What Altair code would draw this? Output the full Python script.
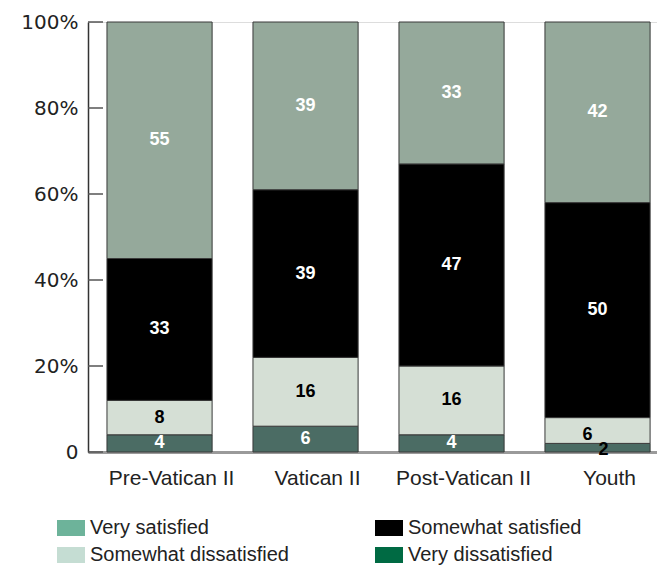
import altair as alt
import pandas as pd

# ---- data ----
groups = ["Pre-Vatican II", "Vatican II", "Post-Vatican II", "Youth"]
categories = ["Very satisfied", "Somewhat satisfied", "Somewhat dissatisfied", "Very dissatisfied"]
# legend texts as printed (the last one carries a leading gap in the reference)
legend_texts = ["Very satisfied", "Somewhat satisfied", "Somewhat dissatisfied",
                "\u00a0\u00a0\u00a0Very dissatisfied"]
very_satisfied = [55, 39, 33, 42]
somewhat_satisfied = [33, 39, 47, 50]
somewhat_dissatisfied = [8, 16, 16, 6]
very_dissatisfied = [4, 6, 4, 2]
y_ticks = [0, 20, 40, 60, 80, 100]

bar_colors = ["#95a99b", "#000000", "#d5dfd5", "#4b6c64"]
legend_colors = ["#6db39a", "#000000", "#c5ddd3", "#006a43"]

series = {
    "Very satisfied": very_satisfied,
    "Somewhat satisfied": somewhat_satisfied,
    "Somewhat dissatisfied": somewhat_dissatisfied,
    "Very dissatisfied": very_dissatisfied,
}

rows = []
for gi, g in enumerate(groups):
    base = 0
    tiny_bottom = very_dissatisfied[gi] < 3
    for cat in reversed(categories):  # stack from the bottom
        v = series[cat][gi]
        dark_text = cat == "Somewhat dissatisfied" or (cat == "Very dissatisfied" and v < 3)
        nudge = "none"
        if tiny_bottom and cat == "Very dissatisfied":
            nudge = "right"
        elif tiny_bottom and cat == "Somewhat dissatisfied":
            nudge = "left"
        rows.append(dict(group=g, cat=cat, legend_cat=legend_texts[categories.index(cat)],
                         value=v, y0=base, y1=base + v,
                         mid=base + v / 2, tcolor="black" if dark_text else "white",
                         nudge=nudge))
        base += v
df = pd.DataFrame(rows)
ticks_df = pd.DataFrame({"v": y_ticks})

# legend lays out column by column: order entries so rows read as in the reference
legend_idx = [0, 2, 1, 3]
legend_order = [legend_texts[i] for i in legend_idx]
legend_range = [legend_colors[i] for i in legend_idx]

FONT = "Liberation Sans"

x_enc = alt.X("group:N", sort=groups, title=None,
              scale=alt.Scale(paddingInner=0.28, paddingOuter=0.0887, align=0.733),
              axis=alt.Axis(labelAngle=0, labelFont=FONT, labelFontSize=21, labelColor="#222",
                            labelOffset=12, labelPadding=15, ticks=False, domainColor="#9a9a9a",
                            domainWidth=3, grid=False))
y_scale = alt.Scale(domain=[0, 100], nice=False)
y_axis = alt.Axis(values=y_ticks, labelExpr="datum.value == 0 ? '0' : datum.value + '%'",
                  labelFont="DejaVu Sans", labelFontSize=20, labelColor="#222",
                  labelPadding=10, ticks=False, domainColor="#333", domainWidth=1.5, grid=False)

legend_bars = alt.Chart(df).mark_bar().encode(
    x=x_enc,
    y=alt.Y("y0:Q", scale=y_scale, axis=y_axis, title=None),
    y2="y1:Q",
    color=alt.Color("legend_cat:N", scale=alt.Scale(domain=legend_order, range=legend_range),
                    legend=alt.Legend(title=None, orient="none", legendX=-31, legendY=492,
                                      columns=2, symbolType="M-1,-0.57L1,-0.57L1,0.57L-1,0.57Z",
                                      symbolSize=784, symbolStrokeWidth=0, symbolOpacity=1,
                                      labelFont=FONT, labelFontSize=20, labelColor="#222",
                                      labelOffset=5, labelLimit=400, columnPadding=86,
                                      rowPadding=3, padding=0)),
)

bars = alt.Chart(df).mark_bar(stroke="#3a3a3a", strokeWidth=1).encode(
    x=x_enc,
    y=alt.Y("y0:Q", scale=y_scale, axis=y_axis, title=None),
    y2="y1:Q",
    fill=alt.Fill("cat:N", scale=alt.Scale(domain=categories, range=bar_colors), legend=None),
)

tick_rules = alt.Chart(ticks_df).mark_rule(color="#555", strokeWidth=1.5).encode(
    y=alt.Y("v:Q", scale=y_scale, axis=y_axis, title=None),
    x=alt.value(0),
    x2=alt.value(15),
)


def text_layer(nudge, dx, dy):
    return alt.Chart(df).transform_filter(alt.datum.nudge == nudge).mark_text(
        font=FONT, fontSize=18, fontWeight="bold", baseline="middle", dx=dx, dy=dy
    ).encode(
        x=x_enc,
        y=alt.Y("mid:Q", scale=y_scale, axis=y_axis, title=None),
        text="value:Q",
        color=alt.Color("tcolor:N", scale=None),
    )


labels = [text_layer("none", 0, 0), text_layer("left", -10, 4), text_layer("right", 6, 2)]

chart = alt.layer(legend_bars, bars, tick_rules, *labels).properties(
    width=569, height=430,
    autosize=alt.AutoSizeParams(type="none"),
    padding={"left": 88, "top": 22, "right": 0, "bottom": 114},
).configure_view(strokeWidth=0).configure(background="white")

chart.save("out.html", embed_options={"renderer": "svg", "actions": False})
